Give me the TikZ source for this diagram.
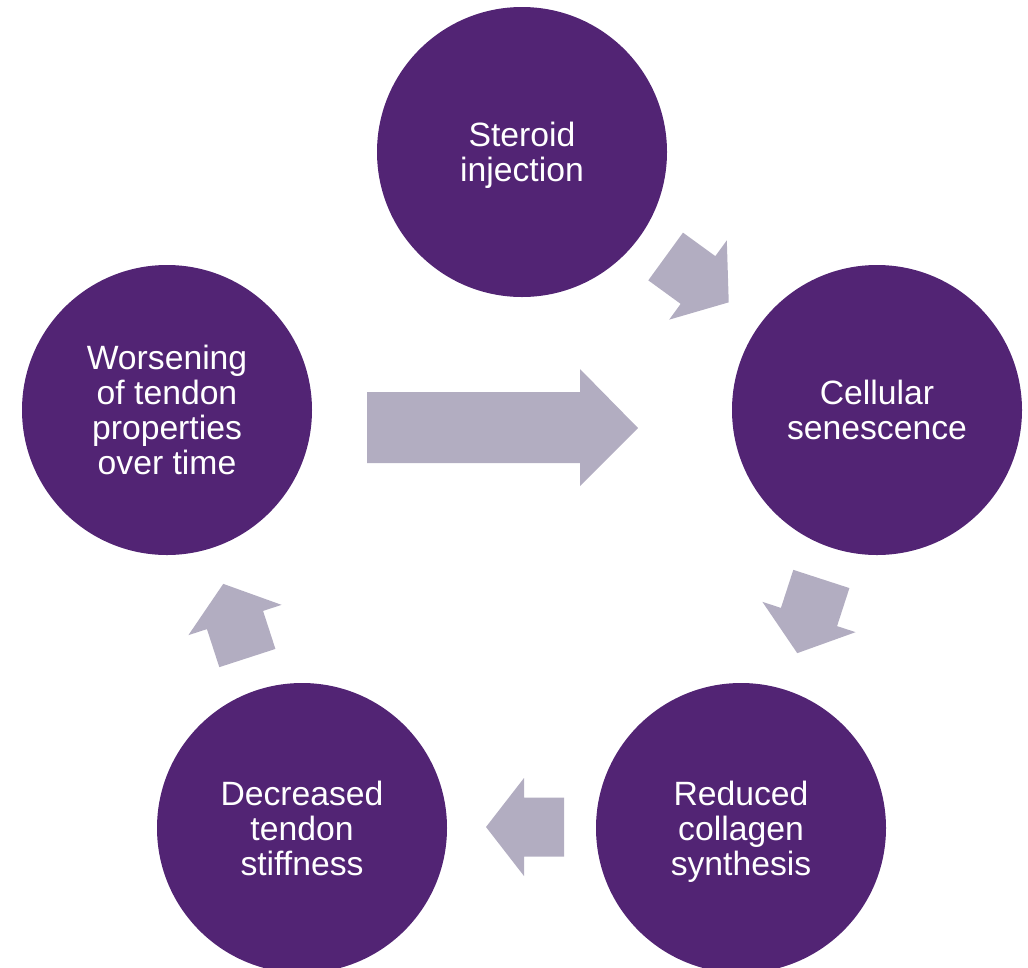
\documentclass[tikz,border=0pt]{standalone}
\usepackage{fontspec}
\setmainfont{Liberation Sans}
\definecolor{cyclepurple}{RGB}{82,36,116}
\definecolor{arrowgray}{RGB}{178,173,193}
\begin{document}
\begin{tikzpicture}[x=1pt,y=-1pt,
  stage/.style={circle,fill=cyclepurple,draw=none,minimum size=290pt,inner sep=0pt,
    text=white,align=center,font=\fontsize{33.7}{35}\selectfont,text depth=0pt},
  blockarrow/.style={fill=arrowgray,draw=none}]
\useasboundingbox (0,0) rectangle (1028,967);
\clip (0,0) rectangle (1028,967);
% stages
\node[stage] (steroid) at (522,152) {Steroid\\injection};
\node[stage] (cellular) at (877,410) {Cellular\\senescence};
\node[stage] (reduced) at (741,828) {Reduced\\collagen\\synthesis};
\node[stage] (decreased) at (302,828) {Decreased\\tendon\\stiffness};
\node[stage] (worsening) at (167,410) {Worsening\\of tendon\\properties\\over time};
% small cycle arrows (origin at head base centre, pointing along +x before rotation)
\coordinate (a1) at (698,280);
\coordinate (a2) at (809,617);
\coordinate (a3) at (524,827);
\coordinate (a4) at (235,620);
\foreach \c/\ang in {a1/-36,a2/-108,a3/180,a4/108}{
  \begin{scope}[shift={(\c)},rotate=\ang,y=1pt]
    \fill[blockarrow] (-40,-29.5) -- (0,-29.5) -- (0,-49) -- (38,0) -- (0,49) -- (0,29.5) -- (-40,29.5) -- cycle;
  \end{scope}
}
% large arrow
\fill[blockarrow] (367,392) -- (580,392) -- (580,369) -- (638,428) -- (580,486) -- (580,463) -- (367,463) -- cycle;
\end{tikzpicture}
\end{document}
